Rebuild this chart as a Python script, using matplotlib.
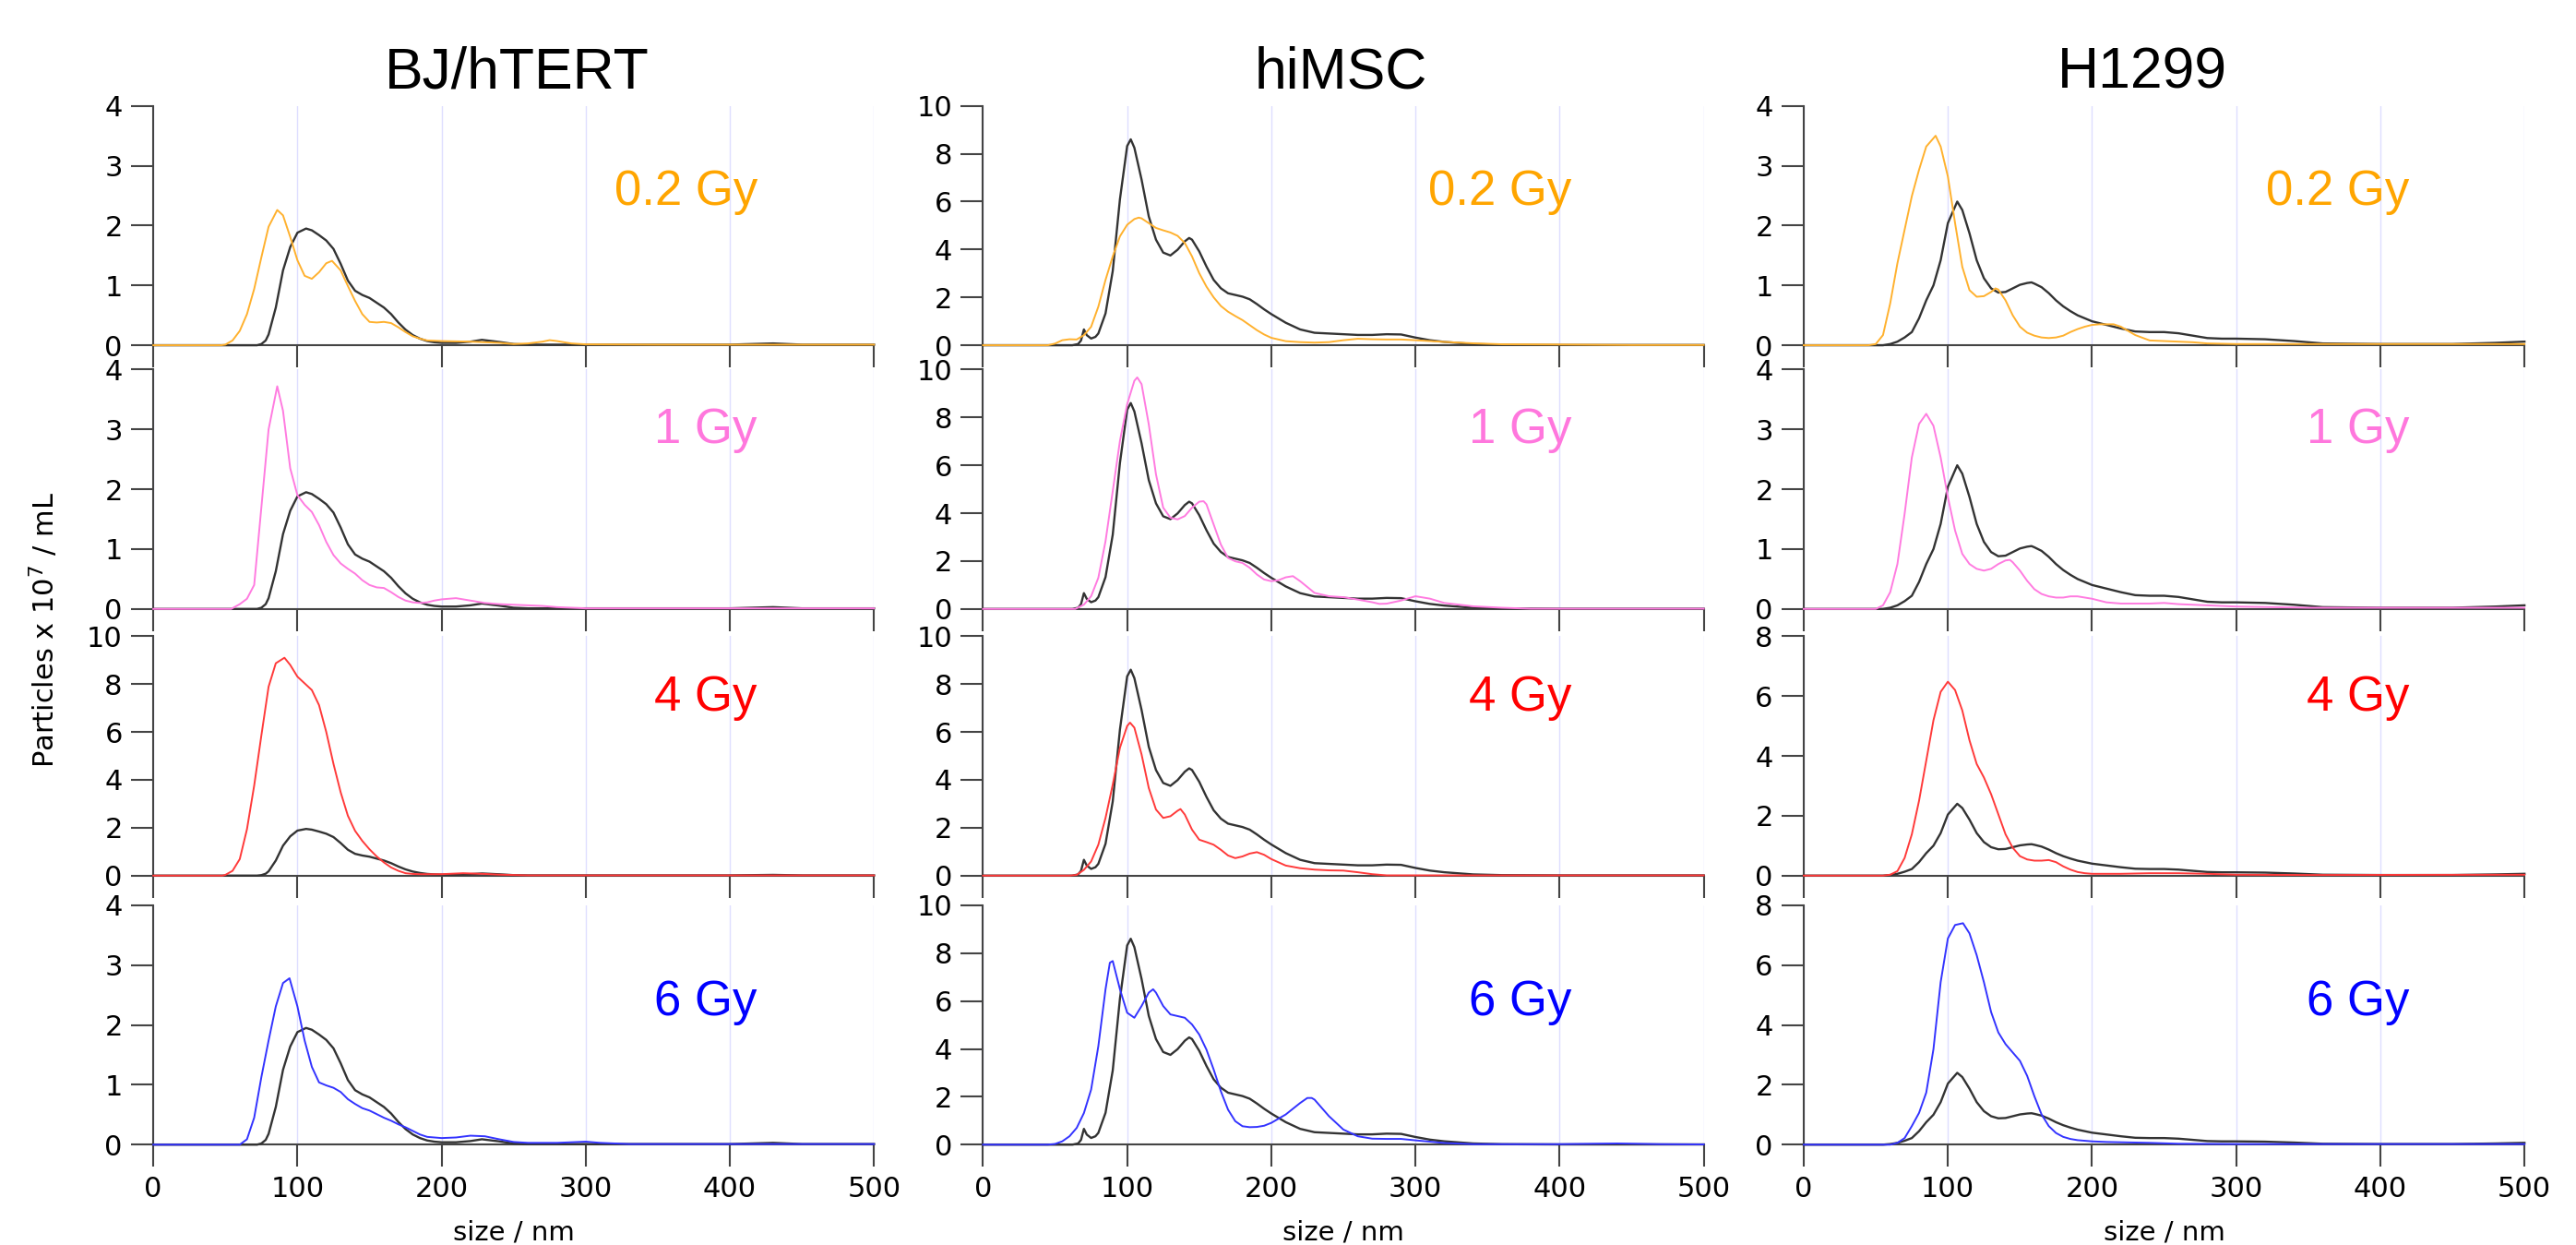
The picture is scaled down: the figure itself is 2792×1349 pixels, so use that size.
import numpy as np
import matplotlib.pyplot as plt
from matplotlib.transforms import blended_transform_factory

# size (nm), particles x 1e7 / mL
# BJ/hTERT
bj_ctrl = [(0, 0), (72, 0), (75, 0.02), (78, 0.08), (80, 0.18), (85, 0.63), (90, 1.25), (95, 1.64),
           (100, 1.88), (106, 1.95), (110, 1.92), (115, 1.84), (120, 1.75), (125, 1.61), (130, 1.36),
           (135, 1.08), (140, 0.91), (145, 0.84), (150, 0.79), (155, 0.71), (160, 0.63), (165, 0.52),
           (170, 0.38), (175, 0.26), (180, 0.17), (185, 0.11), (190, 0.07), (195, 0.05), (200, 0.04),
           (210, 0.04), (220, 0.06), (228, 0.09), (240, 0.055), (250, 0.02), (260, 0.01), (400, 0.01),
           (430, 0.03), (450, 0.01), (500, 0.01)]
bj_02 = [(0, 0), (47, 0), (50, 0.01), (55, 0.08), (60, 0.24), (65, 0.52), (70, 0.94), (75, 1.47),
         (80, 1.98), (86, 2.26), (90, 2.17), (95, 1.81), (100, 1.42), (105, 1.16), (110, 1.11),
         (115, 1.22), (120, 1.37), (124, 1.41), (130, 1.25), (135, 0.99), (140, 0.74), (145, 0.52),
         (150, 0.39), (155, 0.38), (160, 0.39), (165, 0.37), (170, 0.30), (175, 0.22), (180, 0.15),
         (185, 0.11), (190, 0.08), (200, 0.07), (220, 0.06), (240, 0.04), (250, 0.02), (260, 0.03),
         (270, 0.06), (275, 0.085), (280, 0.07), (290, 0.03), (300, 0.015), (350, 0.01), (500, 0.01)]
bj_1 = [(0, 0), (54, 0), (60, 0.08), (65, 0.17), (70, 0.4), (75, 1.7), (80, 3.0), (86, 3.72),
        (90, 3.31), (95, 2.35), (100, 1.90), (105, 1.74), (110, 1.62), (115, 1.40), (120, 1.12),
        (125, 0.90), (130, 0.76), (135, 0.67), (140, 0.59), (145, 0.48), (150, 0.40), (155, 0.36),
        (160, 0.35), (165, 0.28), (170, 0.20), (175, 0.14), (180, 0.11), (185, 0.10), (190, 0.11),
        (195, 0.14), (200, 0.16), (210, 0.18), (220, 0.14), (230, 0.10), (240, 0.08), (250, 0.07),
        (260, 0.06), (270, 0.05), (280, 0.03), (300, 0.01), (500, 0.01)]
bj_4 = [(0, 0), (48, 0), (50, 0.03), (55, 0.2), (60, 0.69), (65, 1.94), (70, 3.76), (75, 5.86),
        (80, 7.89), (85, 8.87), (91, 9.1), (95, 8.8), (100, 8.31), (105, 8.03), (110, 7.75),
        (115, 7.12), (120, 6.0), (125, 4.67), (130, 3.48), (135, 2.50), (140, 1.87), (145, 1.45),
        (150, 1.10), (155, 0.8), (160, 0.55), (165, 0.34), (170, 0.2), (175, 0.1), (180, 0.07),
        (185, 0.06), (200, 0.06), (215, 0.1), (230, 0.07), (240, 0.04), (260, 0.01), (500, 0.01)]
bj_6 = [(0, 0), (60, 0), (65, 0.09), (70, 0.45), (75, 1.13), (80, 1.74), (85, 2.31), (90, 2.70),
        (94.5, 2.78), (100, 2.31), (105, 1.74), (110, 1.30), (115, 1.04), (120, 0.99), (125, 0.95),
        (130, 0.88), (135, 0.76), (140, 0.68), (145, 0.61), (150, 0.57), (155, 0.51), (160, 0.45),
        (165, 0.40), (170, 0.34), (175, 0.29), (180, 0.23), (185, 0.17), (190, 0.13), (195, 0.12),
        (200, 0.11), (210, 0.12), (220, 0.15), (230, 0.14), (240, 0.09), (250, 0.045), (260, 0.03),
        (280, 0.03), (300, 0.05), (310, 0.03), (330, 0.01), (500, 0.01)]

# hiMSC
ms_ctrl = [(0, 0), (62, 0), (66, 0.05), (68, 0.2), (70, 0.66), (72, 0.42), (75, 0.28), (78, 0.35),
           (80, 0.49), (85, 1.33), (90, 3.1), (95, 6.1), (100, 8.32), (102.5, 8.6), (105, 8.25),
           (110, 6.92), (115, 5.38), (120, 4.41), (125, 3.87), (130, 3.75), (135, 3.99), (140, 4.34),
           (143, 4.48), (145, 4.41), (150, 3.92), (155, 3.29), (160, 2.73), (165, 2.38), (170, 2.17),
           (175, 2.10), (180, 2.03), (185, 1.92), (190, 1.72), (195, 1.50), (200, 1.30), (210, 0.94),
           (220, 0.66), (230, 0.52), (240, 0.49), (250, 0.46), (260, 0.43), (270, 0.43), (280, 0.46),
           (290, 0.45), (300, 0.32), (310, 0.21), (320, 0.14), (340, 0.05), (360, 0.02), (400, 0.01),
           (500, 0.01)]
ms_02 = [(0, 0), (45, 0), (50, 0.07), (55, 0.21), (60, 0.25), (65, 0.24), (70, 0.42), (75, 0.77),
         (80, 1.61), (85, 2.73), (90, 3.71), (95, 4.55), (100, 5.03), (105, 5.27), (108, 5.33),
         (110, 5.30), (115, 5.10), (120, 4.90), (125, 4.80), (130, 4.71), (135, 4.57), (140, 4.27),
         (145, 3.71), (150, 3.01), (155, 2.45), (160, 2.0), (165, 1.64), (170, 1.40), (175, 1.22),
         (180, 1.05), (185, 0.84), (190, 0.63), (195, 0.45), (200, 0.31), (210, 0.17), (220, 0.13),
         (230, 0.11), (240, 0.13), (250, 0.21), (260, 0.27), (270, 0.25), (280, 0.24), (290, 0.24),
         (300, 0.21), (320, 0.14), (340, 0.08), (360, 0.04), (400, 0.03), (450, 0.01), (500, 0.01)]
ms_1 = [(0, 0), (64, 0), (70, 0.18), (75, 0.53), (80, 1.3), (85, 2.83), (90, 4.92), (95, 7.02),
        (100, 8.55), (105, 9.53), (107, 9.67), (110, 9.39), (115, 7.71), (120, 5.62), (125, 4.23),
        (130, 3.81), (135, 3.74), (140, 3.88), (145, 4.23), (150, 4.48), (153, 4.5), (155, 4.37),
        (160, 3.53), (165, 2.69), (170, 2.13), (175, 1.99), (180, 1.92), (185, 1.72), (190, 1.44),
        (195, 1.23), (200, 1.16), (205, 1.2), (210, 1.32), (215, 1.37), (220, 1.16), (230, 0.67),
        (240, 0.53), (250, 0.49), (260, 0.39), (270, 0.28), (275, 0.21), (280, 0.22), (290, 0.35),
        (300, 0.53), (310, 0.43), (320, 0.25), (340, 0.11), (360, 0.05), (380, 0.01), (500, 0.01)]
ms_4 = [(0, 0), (60, 0), (65, 0.03), (70, 0.24), (75, 0.59), (80, 1.29), (85, 2.41), (90, 3.80),
        (95, 5.34), (100, 6.25), (102, 6.39), (105, 6.18), (110, 5.06), (115, 3.66), (120, 2.76),
        (125, 2.41), (130, 2.48), (135, 2.71), (137, 2.78), (140, 2.55), (145, 1.92), (150, 1.50),
        (155, 1.40), (160, 1.29), (165, 1.08), (170, 0.84), (175, 0.73), (180, 0.80), (185, 0.92),
        (190, 0.98), (195, 0.87), (200, 0.69), (210, 0.42), (220, 0.31), (230, 0.25), (240, 0.22),
        (250, 0.21), (260, 0.14), (270, 0.06), (280, 0.01), (500, 0.01)]
ms_6 = [(0, 0), (45, 0), (50, 0.03), (55, 0.14), (60, 0.35), (65, 0.70), (70, 1.32), (75, 2.30),
        (80, 4.11), (85, 6.49), (88, 7.6), (90, 7.67), (95, 6.49), (100, 5.51), (105, 5.30),
        (110, 5.79), (115, 6.35), (118, 6.49), (120, 6.35), (125, 5.79), (130, 5.44), (135, 5.37),
        (140, 5.30), (145, 5.02), (150, 4.60), (155, 3.97), (160, 3.14), (165, 2.23), (170, 1.46),
        (175, 0.98), (180, 0.77), (185, 0.73), (190, 0.74), (195, 0.79), (200, 0.91), (210, 1.26),
        (220, 1.74), (225, 1.95), (228, 1.95), (230, 1.88), (240, 1.19), (250, 0.63), (260, 0.35),
        (270, 0.25), (280, 0.24), (290, 0.24), (300, 0.18), (320, 0.07), (340, 0.02), (400, 0.02),
        (440, 0.05), (470, 0.02), (500, 0.01)]

# H1299
h_ctrl = [(0, 0), (55, 0), (60, 0.02), (65, 0.06), (70, 0.13), (75, 0.22), (80, 0.45), (85, 0.75),
          (90, 1.0), (95, 1.42), (100, 2.04), (106.5, 2.40), (110, 2.26), (115, 1.87), (120, 1.42),
          (125, 1.12), (130, 0.95), (135, 0.88), (140, 0.89), (145, 0.95), (150, 1.01), (155, 1.04),
          (158, 1.05), (160, 1.03), (165, 0.97), (170, 0.87), (175, 0.75), (180, 0.65), (185, 0.57),
          (190, 0.50), (195, 0.45), (200, 0.40), (210, 0.34), (220, 0.28), (230, 0.23), (240, 0.22),
          (250, 0.22), (260, 0.20), (270, 0.16), (280, 0.12), (290, 0.11), (300, 0.11), (320, 0.10),
          (340, 0.07), (360, 0.03), (400, 0.02), (450, 0.02), (480, 0.04), (500, 0.06)]
h_02 = [(0, 0), (45, 0), (50, 0.02), (55, 0.17), (60, 0.70), (65, 1.37), (70, 1.93), (75, 2.49),
        (80, 2.93), (85, 3.32), (91.5, 3.50), (95, 3.32), (100, 2.82), (105, 2.04), (110, 1.31),
        (115, 0.92), (120, 0.81), (125, 0.82), (130, 0.89), (133, 0.95), (135, 0.93), (140, 0.75),
        (145, 0.50), (150, 0.31), (155, 0.21), (160, 0.16), (165, 0.13), (170, 0.12), (175, 0.13),
        (180, 0.16), (185, 0.22), (190, 0.27), (195, 0.31), (200, 0.34), (205, 0.35), (210, 0.35),
        (215, 0.35), (220, 0.31), (230, 0.17), (240, 0.08), (250, 0.07), (260, 0.06), (270, 0.05),
        (280, 0.03), (300, 0.02), (500, 0.02)]
h_1 = [(0, 0), (50, 0), (55, 0.06), (60, 0.28), (65, 0.75), (70, 1.59), (75, 2.53), (80, 3.09),
       (85, 3.26), (90, 3.06), (95, 2.53), (100, 1.87), (105, 1.31), (110, 0.92), (115, 0.75),
       (120, 0.67), (125, 0.64), (130, 0.67), (135, 0.75), (140, 0.81), (143, 0.82), (145, 0.78),
       (150, 0.64), (155, 0.47), (160, 0.33), (165, 0.25), (170, 0.21), (175, 0.19), (180, 0.19),
       (185, 0.21), (190, 0.21), (195, 0.19), (200, 0.17), (210, 0.11), (220, 0.09), (240, 0.09),
       (250, 0.10), (260, 0.08), (280, 0.06), (300, 0.04), (350, 0.02), (500, 0.02)]
h_4 = [(0, 0), (55, 0), (60, 0.03), (65, 0.15), (70, 0.59), (75, 1.38), (80, 2.50), (85, 3.84),
       (90, 5.19), (95, 6.14), (100, 6.48), (105, 6.20), (110, 5.52), (115, 4.52), (120, 3.73),
       (125, 3.28), (130, 2.72), (135, 2.05), (140, 1.38), (145, 0.93), (150, 0.65), (155, 0.54),
       (160, 0.50), (165, 0.50), (170, 0.52), (175, 0.45), (180, 0.31), (185, 0.20), (190, 0.12),
       (195, 0.08), (200, 0.06), (220, 0.06), (240, 0.08), (260, 0.08), (280, 0.06), (300, 0.03),
       (350, 0.02), (500, 0.03)]
h_6 = [(0, 0), (60, 0), (65, 0.06), (70, 0.22), (75, 0.62), (80, 1.06), (85, 1.74), (90, 3.19),
       (95, 5.43), (100, 6.89), (105, 7.34), (110.5, 7.40), (115, 7.06), (120, 6.33), (125, 5.43),
       (130, 4.43), (135, 3.75), (140, 3.36), (145, 3.08), (150, 2.80), (155, 2.30), (160, 1.62),
       (165, 1.01), (170, 0.62), (175, 0.39), (180, 0.26), (185, 0.19), (190, 0.15), (200, 0.11),
       (210, 0.09), (220, 0.08), (240, 0.06), (260, 0.03), (300, 0.02), (500, 0.02)]

cell_lines = ['BJ/hTERT', 'hiMSC', 'H1299']
doses = ['0.2 Gy', '1 Gy', '4 Gy', '6 Gy']
controls = [bj_ctrl, ms_ctrl, h_ctrl]
treated = [[bj_02, bj_1, bj_4, bj_6],
           [ms_02, ms_1, ms_4, ms_6],
           [h_02, h_1, h_4, h_6]]
y_max = [[4, 4, 10, 4],
         [10, 10, 10, 10],
         [4, 4, 8, 8]]

dose_colors = ['#ffa500', '#ff77dd', '#ff0000', '#0000ff']
line_colors = ['#ffb12e', '#ff7be0', '#ff3a3a', '#3333ff']
axis_color = '#444444'

plt.rcParams['font.family'] = ['Liberation Sans', 'DejaVu Sans']

fig = plt.figure(figsize=(27.92, 13.49), dpi=100)

col_left = [0.0595, 0.3816, 0.7002]
row_bottom = [0.7227, 0.5109, 0.2967, 0.0806]
ax_w, ax_h = 0.2798, 0.1923
title_x = [0.2006, 0.5204, 0.8317]
label_x = [419, 408, 420]
label_y = [0.586, 0.693, 0.69, 0.539]

for c in range(3):
    for r in range(4):
        ax = fig.add_axes([col_left[c], row_bottom[r], ax_w, ax_h])
        cx, cy = zip(*controls[c])
        tx, ty = zip(*treated[c][r])
        ax.plot(cx, cy, color='#333333', lw=1.7, zorder=3, clip_on=False)
        ax.plot(tx, ty, color=line_colors[r], lw=1.4, zorder=4, clip_on=False)

        top = y_max[c][r]
        ax.set_xlim(0, 500)
        ax.set_ylim(0, top)
        ax.set_xticks(range(0, 501, 100))
        step = 1 if top == 4 else 2
        ax.set_yticks(np.arange(0, top + 0.01, step))

        for s in ['top', 'right']:
            ax.spines[s].set_visible(False)
        for s in ['left', 'bottom']:
            ax.spines[s].set_color(axis_color)
            ax.spines[s].set_linewidth(1.5)

        ax.grid(axis='x', color='#dedeff', lw=1.0)
        ax.set_axisbelow(True)
        ax.tick_params(direction='out', length=17, width=1.5, color=axis_color,
                       labelsize=22, pad=7)
        for lab in ax.get_xticklabels() + ax.get_yticklabels():
            lab.set_fontfamily('DejaVu Sans')
        if r < 3:
            ax.tick_params(labelbottom=False)

        trans = blended_transform_factory(ax.transData, ax.transAxes)
        ax.text(label_x[c], label_y[r], doses[r], transform=trans, ha='right',
                va='baseline', color=dose_colors[r], fontsize=38)

    fig.text(title_x[c], 1 - 96 / 1349, cell_lines[c], ha='center', va='baseline',
             fontsize=45)
    fig.text(col_left[c] + ax_w / 2, 1 - 1343 / 1349, 'size / nm', ha='center',
             va='baseline', fontsize=21, family='DejaVu Sans')

fig.text(0.017, 0.494, r'Particles x 10$^{\mathregular{7}}$ / mL', rotation=90,
         ha='center', va='center', fontsize=22, family='DejaVu Sans')

fig.savefig('out.png', dpi=100, facecolor='white')
